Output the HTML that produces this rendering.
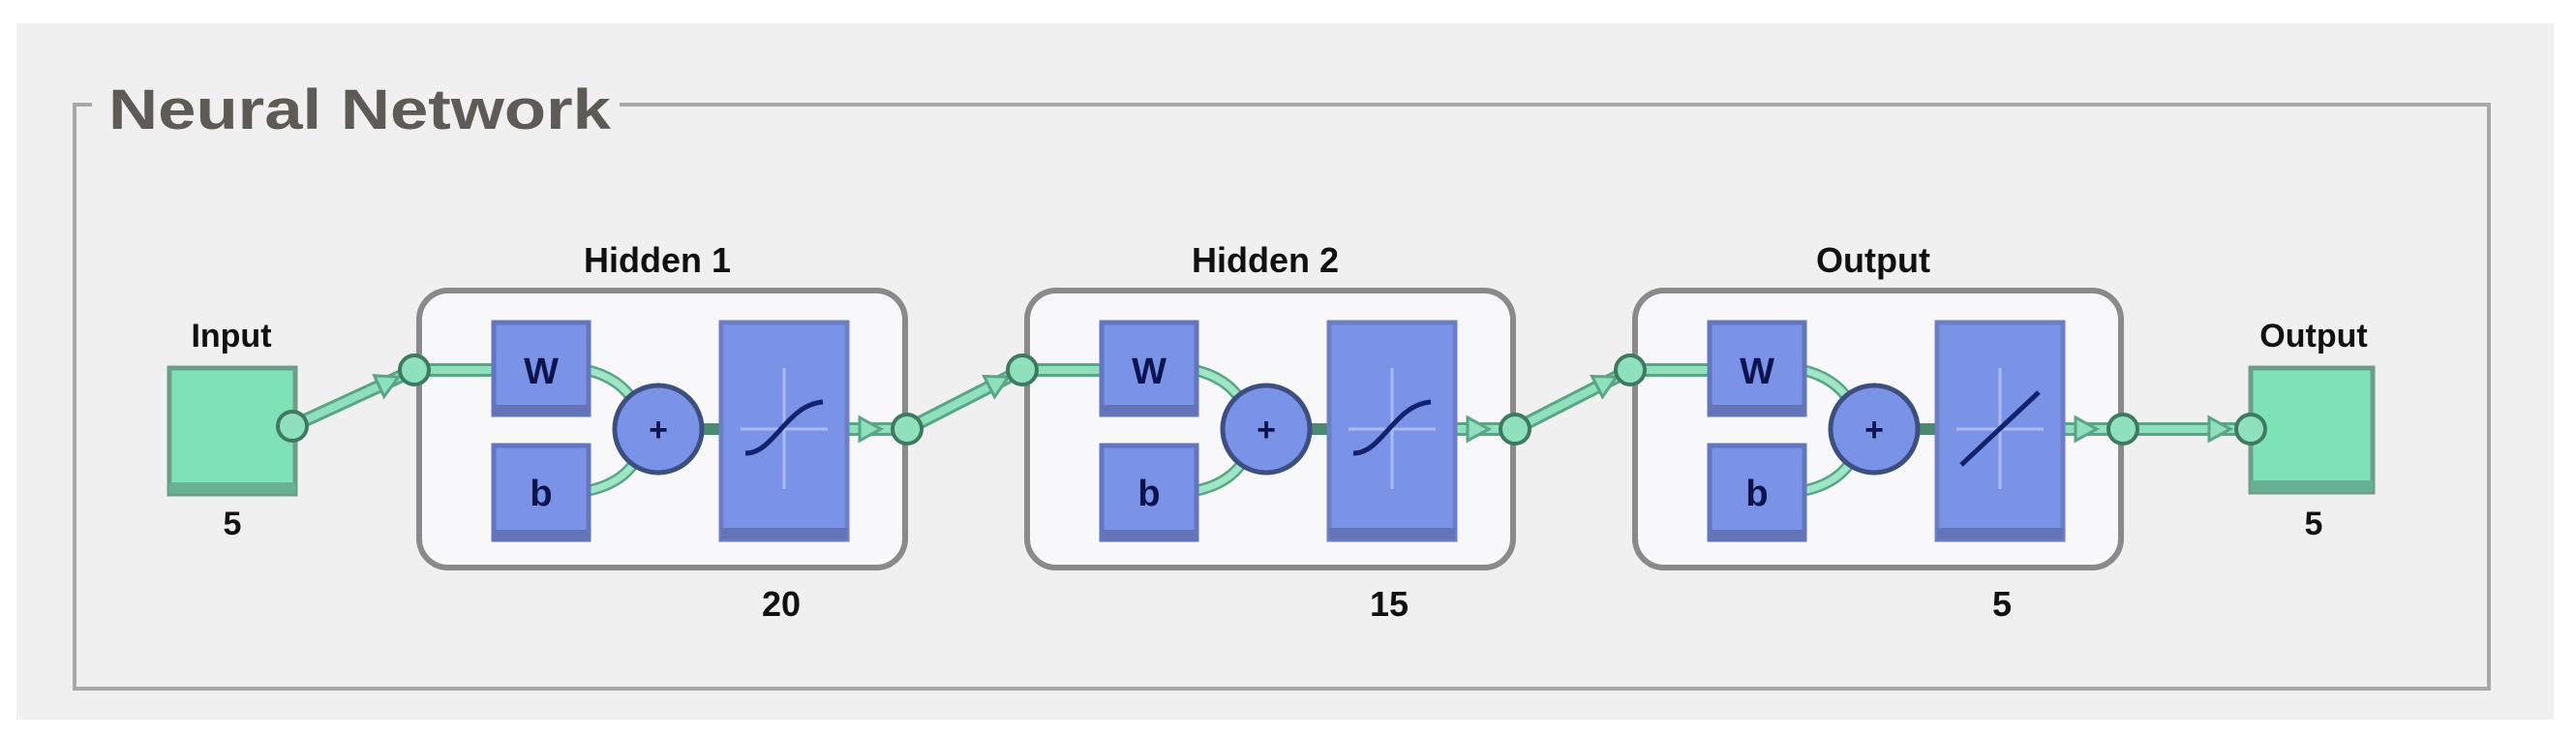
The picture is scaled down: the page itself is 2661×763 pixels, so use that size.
<!DOCTYPE html>
<html><head><meta charset="utf-8"><style>
html,body{margin:0;padding:0;background:#fff;}
svg{display:block;}
text{font-family:"Liberation Sans",sans-serif;font-weight:bold;}
</style></head><body>
<svg width="2661" height="763" viewBox="0 0 2661 763" xmlns="http://www.w3.org/2000/svg">
<defs>
<g id="arrowhead"><path d="M-18,-12 L4,0 L-18,12 Z" fill="#8fe0bd" stroke="#5aa585" stroke-width="3"/></g>
<g id="blk">
  <rect x="433" y="300" width="502" height="286" rx="30" ry="30" fill="#f8f8fb" stroke="#8a8a8a" stroke-width="6"/>
  <!-- connections -->
  <line x1="428" y1="382" x2="510" y2="382" stroke="#5aa585" stroke-width="14"/>
  <line x1="428" y1="382" x2="510" y2="382" stroke="#8fe0bd" stroke-width="8"/>
  <path d="M606,382 Q640,390 655,415" fill="none" stroke="#5aa585" stroke-width="12"/>
  <path d="M606,382 Q640,390 655,415" fill="none" stroke="#9ee6c6" stroke-width="7"/>
  <path d="M606,507 Q640,500 655,478" fill="none" stroke="#5aa585" stroke-width="12"/>
  <path d="M606,507 Q640,500 655,478" fill="none" stroke="#9ee6c6" stroke-width="7"/>
  <line x1="725" y1="443" x2="745" y2="443" stroke="#4a8a70" stroke-width="12"/>
  <line x1="875" y1="443" x2="937" y2="443" stroke="#5aa585" stroke-width="14"/>
  <line x1="875" y1="443" x2="937" y2="443" stroke="#8fe0bd" stroke-width="8"/>
  <use href="#arrowhead" x="906" y="443"/>
  <!-- W -->
  <rect x="510" y="333" width="98" height="95" fill="#7b93e6" stroke="#6275bd" stroke-width="5"/>
  <rect x="510" y="418" width="98" height="10" fill="#6375b8"/>
  <text x="559" y="396" font-size="38" text-anchor="middle" fill="#0c1450">W</text>
  <!-- b -->
  <rect x="510" y="460" width="98" height="97" fill="#7b93e6" stroke="#6275bd" stroke-width="5"/>
  <rect x="510" y="547" width="98" height="10" fill="#6375b8"/>
  <text x="559" y="522" font-size="38" text-anchor="middle" fill="#0c1450">b</text>
  <!-- plus -->
  <circle cx="680" cy="443" r="45" fill="#7b93e6" stroke="#3d4e80" stroke-width="5"/>
  <text x="680" y="455" font-size="34" text-anchor="middle" fill="#0c1450">+</text>
  <!-- transfer -->
  <rect x="745" y="333" width="130" height="224" fill="#7b93e6" stroke="#6c7fc4" stroke-width="5"/>
  <rect x="745" y="545" width="130" height="12" fill="#6375b8"/>
  <line x1="810" y1="380" x2="810" y2="505" stroke="#a9bbf5" stroke-width="3"/>
  <line x1="765" y1="443" x2="855" y2="443" stroke="#a9bbf5" stroke-width="3"/>
</g>
<g id="circ"><circle r="15" fill="#8fe0bd" stroke="#3f7a60" stroke-width="4"/></g>
</defs>
<rect x="17" y="24" width="2621" height="719" fill="#f0f0f0"/>
<rect x="77" y="108" width="2494" height="603" fill="none" stroke="#a8a8a8" stroke-width="4"/>
<rect x="95" y="80" width="545" height="60" fill="#f0f0f0"/>
<text x="112" y="133" font-size="58" fill="#5e5a56" textLength="519" lengthAdjust="spacingAndGlyphs">Neural Network</text>

<!-- input node -->
<rect x="175" y="380" width="130" height="130" fill="#7de3b6" stroke="#6e9e88" stroke-width="5"/>
<rect x="175" y="498" width="130" height="12" fill="#66b292"/>
<text x="239" y="358" font-size="34" text-anchor="middle" fill="#111">Input</text>
<text x="240" y="552" font-size="34" text-anchor="middle" fill="#111">5</text>

<!-- blocks -->
<use href="#blk" x="0"/>
<use href="#blk" x="628"/>
<use href="#blk" x="1256"/>
<!-- sigmoid curves -->
<path d="M770,468 C800,468 812,418 850,415" fill="none" stroke="#13226e" stroke-width="5"/>
<path d="M1398,468 C1428,468 1440,418 1478,415" fill="none" stroke="#13226e" stroke-width="5"/>
<line x1="2026" y1="480" x2="2106" y2="405" stroke="#13226e" stroke-width="5"/>

<text x="679" y="281" font-size="36" text-anchor="middle" fill="#111">Hidden 1</text>
<text x="1307" y="281" font-size="36" text-anchor="middle" fill="#111">Hidden 2</text>
<text x="1935" y="281" font-size="36" text-anchor="middle" fill="#111">Output</text>
<text x="807" y="636" font-size="36" text-anchor="middle" fill="#111">20</text>
<text x="1435" y="636" font-size="36" text-anchor="middle" fill="#111">15</text>
<text x="2068" y="636" font-size="36" text-anchor="middle" fill="#111">5</text>

<!-- inter connections -->
<g stroke-linecap="round">
<line x1="302" y1="440" x2="428" y2="382" stroke="#5aa585" stroke-width="14"/>
<line x1="302" y1="440" x2="428" y2="382" stroke="#8fe0bd" stroke-width="8"/>
<line x1="937" y1="443" x2="1056" y2="382" stroke="#5aa585" stroke-width="14"/>
<line x1="937" y1="443" x2="1056" y2="382" stroke="#8fe0bd" stroke-width="8"/>
<line x1="1565" y1="443" x2="1684" y2="382" stroke="#5aa585" stroke-width="14"/>
<line x1="1565" y1="443" x2="1684" y2="382" stroke="#8fe0bd" stroke-width="8"/>
<line x1="2193" y1="443" x2="2325" y2="443" stroke="#5aa585" stroke-width="14"/>
<line x1="2193" y1="443" x2="2325" y2="443" stroke="#8fe0bd" stroke-width="8"/>
</g>
<use href="#arrowhead" transform="translate(408,391) rotate(-25)"/>
<use href="#arrowhead" transform="translate(1038,391) rotate(-27)"/>
<use href="#arrowhead" transform="translate(1666,391) rotate(-27)"/>
<use href="#arrowhead" transform="translate(2300,443)"/>

<!-- output node -->
<rect x="2325" y="380" width="126" height="128" fill="#7de3b6" stroke="#6e9e88" stroke-width="5"/>
<rect x="2325" y="496" width="126" height="12" fill="#66b292"/>
<text x="2390" y="358" font-size="34" text-anchor="middle" fill="#111">Output</text>
<text x="2390" y="552" font-size="34" text-anchor="middle" fill="#111">5</text>

<!-- circles -->
<use href="#circ" x="302" y="440"/>
<use href="#circ" x="428" y="382"/>
<use href="#circ" x="937" y="443"/>
<use href="#circ" x="1056" y="382"/>
<use href="#circ" x="1565" y="443"/>
<use href="#circ" x="1684" y="382"/>
<use href="#circ" x="2193" y="443"/>
<use href="#circ" x="2325" y="443"/>
</svg>
</body></html>
